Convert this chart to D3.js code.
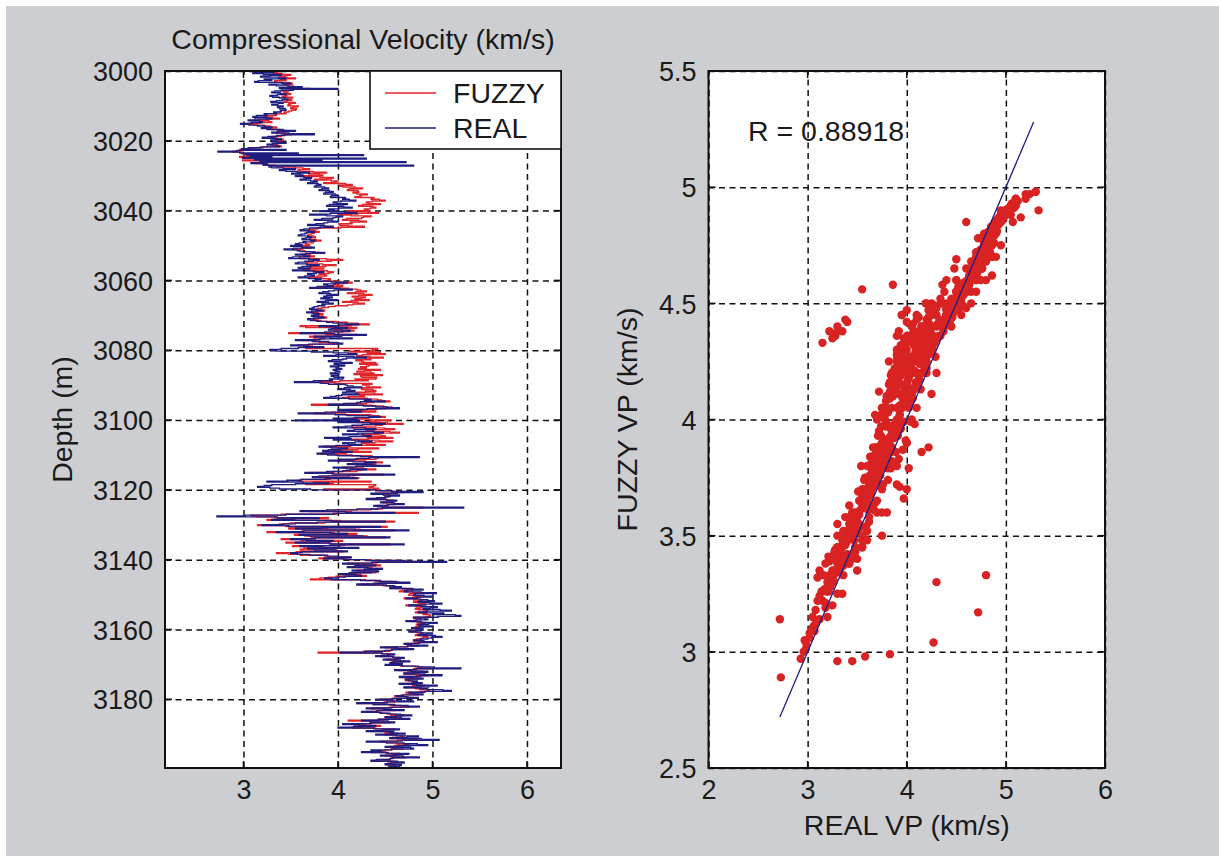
<!DOCTYPE html>
<html>
<head>
<meta charset="utf-8">
<script src="https://cdn.jsdelivr.net/npm/d3@7"></script>
<style>
  html, body { margin: 0; padding: 0; background: #fff; }
  svg text { font-family: "Liberation Sans", Arial, sans-serif; font-size: 28.5px; fill: #1a1a1a; }
  svg .tick text { font-size: 27px; }
</style>
</head>
<body>
<svg id="fig" width="1219" height="856"></svg>
<script>
// Well log: compressional velocity sampled every 0.25 m from 3000 m
const depthTop = 3000;
const sampleStep = 0.25;

// Measured (REAL) P-wave velocity, km/s, one row per 5 m
const vpReal = [
  3.25,3.32,3.10,3.21,3.40,3.28,3.18,3.37,3.45,3.22,3.30,3.16,3.12,3.41,3.50,3.27,3.35,3.47,3.62,3.38,
  4.00,3.52,3.40,3.33,3.30,3.39,3.45,3.36,3.28,3.31,3.38,3.44,3.47,3.41,3.35,3.29,3.42,3.37,3.30,3.36,
  3.42,3.36,3.38,3.44,3.45,3.39,3.40,3.32,3.35,3.22,3.25,3.14,3.10,3.24,3.30,3.12,3.05,3.17,3.20,3.08,
  2.97,3.06,3.15,3.23,3.30,3.19,3.25,3.42,3.55,3.36,3.30,3.48,3.75,3.44,3.35,3.26,3.20,3.33,3.40,3.29,
  3.30,3.36,3.45,3.31,3.25,3.34,3.38,3.18,3.05,2.98,3.45,2.93,2.73,2.96,3.58,3.02,4.27,3.07,3.30,2.99,
  4.30,3.12,3.83,3.18,4.72,3.08,3.25,3.21,4.80,3.27,3.30,3.42,3.55,3.38,3.45,3.57,3.70,3.51,3.60,3.63,
  3.55,3.64,3.72,3.66,3.60,3.71,3.78,3.74,3.68,3.79,3.82,3.77,3.75,3.86,3.90,3.83,3.80,3.91,3.95,3.87,
  3.85,3.97,4.00,3.93,3.92,4.08,4.05,4.12,4.19,4.03,3.95,3.99,4.10,3.91,3.88,4.06,4.15,4.01,3.90,3.96,
  3.80,4.07,4.20,3.92,3.70,3.88,4.05,3.98,3.95,3.83,3.75,3.94,4.00,3.89,3.85,3.77,3.68,3.86,3.95,3.81,
  3.70,3.64,3.60,3.69,3.75,3.67,3.65,3.61,3.58,3.68,3.72,3.66,3.62,3.71,3.76,3.63,3.66,3.59,3.55,3.62,
  3.50,3.62,3.75,3.53,3.43,3.57,3.60,3.73,3.86,3.66,3.55,3.64,3.70,3.52,3.48,3.69,3.80,3.74,3.65,3.58,
  3.55,3.67,3.80,3.71,3.62,3.58,3.70,3.63,3.52,3.74,3.85,3.77,3.68,3.72,3.75,3.65,3.58,3.69,3.82,3.76,
  3.75,3.93,4.10,3.97,3.85,3.89,3.95,3.78,3.70,4.02,4.15,3.96,3.90,3.84,3.80,3.92,4.00,3.88,3.85,3.94,
  3.82,3.91,4.00,3.87,3.78,3.90,3.95,3.83,3.86,3.79,3.75,3.73,3.70,3.77,3.84,3.72,3.67,3.74,3.80,3.76,
  3.72,3.79,3.85,3.74,3.68,3.71,3.78,3.88,3.95,4.08,4.22,4.01,3.80,3.97,4.10,3.93,3.90,4.13,4.05,3.86,
  3.60,3.96,4.30,4.04,3.75,3.92,4.15,3.81,3.55,3.73,3.90,3.99,4.05,3.69,3.50,3.64,3.85,3.58,3.40,3.28,
  3.35,3.72,3.95,4.11,4.20,3.98,3.85,4.17,4.30,4.09,4.05,3.94,3.90,4.03,4.15,3.96,4.00,4.07,3.92,3.99,
  3.98,4.04,3.95,3.99,4.02,3.97,3.92,4.01,4.00,3.93,3.96,4.06,4.05,3.91,3.94,3.74,3.54,3.82,3.90,4.08,
  4.10,4.16,4.25,4.07,4.00,4.13,4.18,4.09,4.05,4.19,4.22,4.04,3.98,3.92,3.85,4.12,4.35,4.28,4.50,4.24,
  4.20,4.06,3.90,4.27,4.40,4.52,4.65,4.31,4.00,4.14,4.25,3.86,3.58,3.97,4.10,4.33,4.45,4.18,3.95,4.21,
  3.55,4.23,4.00,4.34,4.50,4.26,4.15,4.08,3.95,4.29,4.40,4.17,4.10,4.38,4.48,4.21,4.05,4.27,4.35,4.12,
  3.86,4.14,3.95,4.22,4.36,4.18,4.05,4.11,4.25,3.98,3.80,3.93,4.10,4.03,3.90,3.84,4.15,3.96,3.78,3.89,
  4.00,4.24,4.86,4.33,4.20,4.02,3.90,4.16,4.40,4.28,4.10,4.37,4.55,4.19,3.95,4.09,4.30,4.13,4.05,3.88,
  3.65,3.94,4.60,4.12,3.80,3.73,4.20,3.87,3.61,3.46,3.25,3.63,3.90,3.55,3.30,3.22,3.15,3.28,3.38,3.71,
  4.40,4.57,4.90,4.63,4.35,4.48,4.65,4.55,4.50,4.41,4.30,4.52,4.62,4.58,4.45,4.60,4.70,4.53,4.38,4.47,
  5.33,4.42,4.20,3.88,3.60,4.08,4.60,3.95,3.45,3.02,2.72,3.36,3.80,3.52,3.30,3.93,4.50,3.78,3.55,3.42,
  3.20,3.48,4.45,3.83,3.55,4.18,4.75,3.64,3.35,3.92,4.10,3.59,3.70,4.26,4.55,3.76,3.50,3.67,3.95,3.81,
  3.55,3.91,4.70,4.03,3.60,3.84,4.22,3.68,3.75,3.97,4.10,3.62,3.50,3.57,3.70,3.89,4.00,4.14,3.85,4.06,
  4.30,4.71,5.15,4.36,4.05,4.22,4.40,4.18,4.10,4.32,4.47,4.28,4.15,4.43,4.35,4.12,4.02,4.19,4.25,4.08,
  4.00,3.86,3.93,4.24,4.45,4.62,4.76,4.38,4.20,4.51,4.60,4.67,4.55,4.79,4.90,4.73,4.70,4.88,5.04,4.82,
  4.80,4.91,5.00,4.84,4.72,4.87,4.95,5.02,4.85,4.97,5.10,4.93,4.75,4.89,5.05,4.98,4.90,5.08,5.20,4.94,
  4.85,5.12,5.00,5.24,5.30,5.06,4.80,4.92,4.95,4.83,4.72,4.88,5.05,4.96,4.85,4.93,5.00,4.86,4.78,4.90,
  4.90,4.82,4.75,4.88,5.00,4.94,4.85,5.03,5.10,4.99,4.95,4.87,4.80,4.91,5.05,4.86,4.70,4.78,4.95,4.74,
  4.45,4.63,4.80,4.57,4.50,4.29,4.02,4.47,4.60,4.52,4.40,4.58,4.70,4.61,4.48,4.66,4.76,4.59,4.55,4.68,
  4.50,4.68,4.85,5.02,5.30,4.83,4.60,4.77,4.95,4.81,4.70,4.92,5.10,4.87,4.65,4.79,4.90,4.72,4.75,4.84,
  4.80,4.89,4.65,4.83,5.05,4.96,4.70,4.86,4.95,5.11,5.20,4.92,4.75,4.81,4.90,4.69,4.62,4.74,4.85,4.58,
  4.40,4.63,4.80,4.52,4.20,4.37,4.60,4.74,4.86,4.57,4.30,4.49,4.70,4.42,4.25,4.46,4.55,4.66,4.78,4.61,
  4.50,4.67,4.76,4.43,4.25,4.53,4.60,4.34,4.05,4.22,4.40,4.17,4.00,4.38,4.65,4.47,4.30,4.59,4.55,4.71,
  4.40,4.62,4.85,4.73,4.55,4.88,5.07,4.68,4.30,4.51,4.70,4.84,4.95,4.64,4.50,4.77,4.80,4.57,4.35,4.46,
  4.25,4.53,4.75,4.61,4.45,4.69,4.86,4.58,4.55,4.41,4.35,4.63,4.70,4.56,4.50,4.67,4.65,4.54,4.60,4.62
];

// Fuzzy-logic predicted P-wave velocity, km/s, same depths
const vpFuzzy = [
  3.40,3.36,3.32,3.41,3.50,3.44,3.38,3.47,3.55,3.39,3.45,3.33,3.35,3.49,3.52,3.43,3.48,3.53,3.58,3.46,
  3.70,3.53,3.48,3.42,3.45,3.47,3.50,3.46,3.44,3.41,3.52,3.49,3.48,3.51,3.46,3.43,3.55,3.48,3.50,3.47,
  3.58,3.52,3.50,3.56,3.55,3.51,3.48,3.43,3.45,3.33,3.35,3.26,3.22,3.31,3.38,3.24,3.15,3.27,3.30,3.18,
  3.05,3.11,3.22,3.28,3.35,3.26,3.30,3.38,3.45,3.37,3.35,3.43,3.50,3.41,3.40,3.31,3.28,3.36,3.42,3.34,
  3.35,3.39,3.42,3.36,3.30,3.37,3.40,3.21,3.10,3.01,2.96,2.97,2.89,3.00,2.98,3.06,3.04,3.09,2.96,3.03,
  3.30,3.14,2.99,3.19,3.17,3.12,3.20,3.26,3.33,3.35,3.55,3.63,3.70,3.58,3.60,3.74,3.88,3.69,3.80,3.84,
  3.62,3.81,3.95,3.88,3.75,3.93,4.00,3.97,3.85,4.08,4.15,4.02,4.05,4.18,4.26,4.12,4.10,4.21,4.22,4.16,
  4.20,4.31,4.25,4.23,4.18,4.38,4.35,4.44,4.50,4.36,4.30,4.33,4.45,4.26,4.22,4.37,4.40,4.34,4.28,4.32,
  4.10,4.32,4.43,4.21,4.00,4.14,4.35,4.27,4.25,4.09,4.05,4.22,4.30,4.13,4.15,4.01,4.02,4.11,4.28,4.03,
  3.78,3.73,3.70,3.76,3.80,3.75,3.72,3.69,3.68,3.74,3.76,3.71,3.70,3.77,3.82,3.72,3.74,3.67,3.66,3.70,
  3.58,3.67,3.72,3.61,3.52,3.63,3.65,3.76,3.80,3.71,3.62,3.69,3.75,3.59,3.60,3.88,4.05,3.93,3.78,3.66,
  3.68,3.84,3.98,3.87,3.72,3.70,3.85,3.76,3.65,3.89,3.95,3.91,3.80,3.86,3.88,3.78,3.70,3.83,3.92,3.90,
  3.85,4.02,4.15,4.06,3.95,3.99,4.05,3.88,3.80,4.11,4.20,4.24,4.30,4.19,4.10,4.27,4.36,4.22,4.15,4.29,
  4.25,4.18,4.33,4.14,4.05,4.21,4.28,4.16,4.10,3.97,3.90,3.83,3.78,3.81,3.86,3.77,3.72,3.79,3.84,3.80,
  3.78,3.84,3.88,3.79,3.74,3.76,3.82,3.98,4.10,4.21,4.33,4.14,3.60,3.66,4.20,4.04,3.95,4.17,4.12,3.92,
  3.48,3.87,4.20,3.99,3.70,3.83,3.86,3.74,3.62,3.76,3.80,3.91,4.00,3.73,3.58,3.68,3.82,3.66,4.42,4.36,
  4.38,4.12,4.45,4.31,4.50,4.26,4.20,4.34,4.48,4.29,4.35,4.19,4.25,4.27,4.40,4.23,4.42,4.33,4.30,4.24,
  4.30,4.22,4.45,4.28,4.20,4.35,4.38,4.17,4.47,4.24,4.25,4.41,4.40,4.18,4.32,4.02,3.80,3.97,4.36,4.26,
  4.30,4.33,4.45,4.26,4.25,4.37,4.40,4.29,4.20,4.39,4.47,4.23,4.28,4.11,4.05,4.31,4.42,4.46,4.55,4.38,
  4.30,4.12,3.72,4.36,4.48,4.57,4.50,4.41,4.10,4.27,4.40,3.94,3.75,4.08,4.35,4.43,4.50,4.32,4.15,4.34,
  4.56,4.41,4.20,4.52,4.69,4.47,4.40,4.28,4.15,4.49,4.60,4.37,4.30,4.55,4.65,4.43,4.25,4.46,4.50,4.31,
  4.58,4.32,4.15,4.44,4.58,4.39,4.25,4.30,4.50,4.13,3.85,4.06,4.43,4.21,4.05,3.93,4.35,4.09,3.82,3.98,
  4.15,4.36,4.62,4.42,4.40,4.18,4.00,4.29,4.47,4.34,4.25,4.40,4.45,4.27,4.05,4.16,4.40,4.24,4.20,3.95,
  3.70,3.96,4.48,4.17,3.90,3.81,4.22,3.92,3.61,3.58,4.35,3.74,3.95,3.66,4.40,4.38,4.33,4.37,4.43,3.85,
  4.45,4.56,4.70,4.59,4.40,4.49,4.55,4.53,4.50,4.44,4.35,4.51,4.58,4.54,4.48,4.57,4.60,4.52,4.42,4.47,
  4.90,4.47,4.35,3.97,3.70,4.14,4.85,3.99,3.40,3.08,3.14,3.33,3.90,3.55,3.25,4.02,4.60,3.86,3.50,3.38,
  3.15,3.45,4.52,3.89,3.48,4.23,4.60,3.62,3.25,3.96,4.20,3.54,3.65,4.31,4.50,3.72,3.40,3.61,4.05,3.79,
  3.45,3.93,4.55,4.07,3.52,3.79,3.88,3.64,3.60,3.99,4.05,3.56,3.35,3.48,3.60,3.86,3.90,4.13,3.80,4.09,
  4.35,4.66,4.87,4.41,4.10,4.28,4.45,4.22,4.15,4.36,4.47,4.33,4.20,4.42,4.40,4.17,4.05,4.24,4.30,3.98,
  3.90,3.81,3.71,4.29,4.40,4.57,4.65,4.43,4.25,4.48,4.58,4.62,4.55,4.71,4.80,4.68,4.65,4.79,4.90,4.76,
  4.75,4.81,4.90,4.79,4.70,4.80,4.85,4.89,4.80,4.86,4.92,4.84,4.72,4.83,4.88,4.87,4.82,4.91,4.95,4.85,
  4.82,4.94,4.90,4.97,4.98,4.93,4.80,4.86,4.88,4.81,4.78,4.84,4.92,4.88,4.83,4.87,4.90,4.82,4.80,4.85,
  4.85,4.80,4.78,4.84,4.90,4.87,4.82,4.91,4.95,4.90,4.88,4.83,4.80,4.86,4.92,4.81,4.72,4.76,4.85,4.73,
  4.50,4.62,4.75,4.58,4.55,4.27,3.79,4.46,4.55,4.54,4.45,4.59,4.65,4.60,4.52,4.64,4.70,4.57,4.58,4.63,
  4.60,4.66,4.82,4.89,4.98,4.80,4.65,4.74,4.90,4.78,4.70,4.86,4.95,4.83,4.68,4.75,4.85,4.71,4.72,4.79,
  4.78,4.84,4.65,4.79,4.92,4.88,4.70,4.82,4.88,4.94,4.97,4.86,4.72,4.77,4.85,4.67,4.60,4.71,4.80,4.57,
  4.45,4.58,4.60,4.49,4.20,4.38,4.55,4.66,4.75,4.54,4.35,4.47,4.60,4.41,4.30,4.44,4.52,4.61,4.70,4.56,
  4.50,4.61,4.65,4.42,4.11,4.48,4.55,4.36,4.20,4.29,4.45,4.26,4.15,4.40,4.60,4.46,4.35,4.55,4.50,4.63,
  4.50,4.58,4.70,4.66,4.55,4.76,4.85,4.63,4.45,4.52,4.62,4.72,4.75,4.60,4.55,4.69,4.68,4.56,4.50,4.48,
  4.35,4.51,4.65,4.57,4.50,4.64,4.70,4.56,4.55,4.46,4.40,4.59,4.62,4.53,4.52,4.61,4.60,4.54,4.58,4.60
];

// Tick values
const depthTicks = [3000, 3020, 3040, 3060, 3080, 3100, 3120, 3140, 3160, 3180];
const logVelTicks = [3, 4, 5, 6];
const realTicks = [2, 3, 4, 5, 6];
const fuzzyTicks = [2.5, 3, 3.5, 4, 4.5, 5, 5.5];

// Legend entries and correlation
const seriesNames = ["FUZZY", "REAL"];
const correlationR = 0.88918;
// 1:1 reference line end points (km/s)
const fitReal = [2.72, 5.28];
const fitFuzzy = [2.72, 5.28];

const colors = { FUZZY: "#e0242a", REAL: "#1e1e80" };
const scatterColor = "#d92323";

const samples = vpReal.map((v, i) => ({
  depth: depthTop + i * sampleStep,
  real: v,
  fuzzy: vpFuzzy[i]
}));

const W = 1219, H = 856;
const svg = d3.select("#fig");

// figure background
svg.append("rect").attr("x", 6).attr("y", 6).attr("width", W - 6).attr("height", H - 6)
  .attr("fill", "#cdced2");

const defs = svg.append("defs");

function gridAndFrame(g, x, y, xTicks, yTicks, fmtX, fmtY) {
  const [x0, x1] = x.range();
  const [yb, yt] = y.range();
  // plot area
  g.append("rect").attr("x", x0).attr("y", yt).attr("width", x1 - x0).attr("height", yb - yt)
    .attr("fill", "#fff");

  // dashed grid
  const grid = g.append("g").attr("class", "grid");
  grid.append("g").attr("transform", `translate(0,${yb})`)
    .call(d3.axisBottom(x).tickValues(xTicks).tickSize(-(yb - yt)).tickFormat(""))
    .call(s => s.select(".domain").remove());
  grid.append("g").attr("transform", `translate(${x0},0)`)
    .call(d3.axisLeft(y).tickValues(yTicks).tickSize(-(x1 - x0)).tickFormat(""))
    .call(s => s.select(".domain").remove());
  grid.selectAll("line").attr("stroke", "#111").attr("stroke-width", 1.5)
    .attr("stroke-dasharray", "6,4.5");

  // tick labels
  const lx = g.append("g").attr("transform", `translate(0,${yb})`)
    .call(d3.axisBottom(x).tickValues(xTicks).tickSize(0).tickPadding(12).tickFormat(fmtX));
  lx.select(".domain").remove();
  const ly = g.append("g").attr("transform", `translate(${x0},0)`)
    .call(d3.axisLeft(y).tickValues(yTicks).tickSize(0).tickPadding(12).tickFormat(fmtY));
  ly.select(".domain").remove();
  ly.selectAll("text").attr("dy", "0.36em");
  [lx, ly].forEach(a => a.attr("font-size", null).attr("font-family", null));
  g.selectAll(".tick text").attr("fill", "#1a1a1a");
}

function innerTicks(g, x, y, xTicks, yTicks) {
  const [x0, x1] = x.range();
  const [yb, yt] = y.range();
  const len = 7;
  const t = g.append("g").attr("stroke", "#111").attr("stroke-width", 1.5);
  xTicks.forEach(v => {
    t.append("line").attr("x1", x(v)).attr("x2", x(v)).attr("y1", yb).attr("y2", yb - len);
    t.append("line").attr("x1", x(v)).attr("x2", x(v)).attr("y1", yt).attr("y2", yt + len);
  });
  yTicks.forEach(v => {
    t.append("line").attr("y1", y(v)).attr("y2", y(v)).attr("x1", x0).attr("x2", x0 + len);
    t.append("line").attr("y1", y(v)).attr("y2", y(v)).attr("x1", x1).attr("x2", x1 - len);
  });
  g.append("rect").attr("x", x0).attr("y", yt).attr("width", x1 - x0).attr("height", yb - yt)
    .attr("fill", "none").attr("stroke", "#111").attr("stroke-width", 2);
}

// ---------- Left: velocity log vs depth ----------
const xL = d3.scaleLinear().domain([2.17, 6.36]).range([165, 561]);
const yL = d3.scaleLinear().domain([3199.7, 3000]).range([768, 71]);
const gL = svg.append("g");
gridAndFrame(gL, xL, yL, logVelTicks, depthTicks, d3.format("d"), d3.format("d"));

defs.append("clipPath").attr("id", "clipL").append("rect")
  .attr("x", 165).attr("y", 71).attr("width", 561 - 165).attr("height", 768 - 71);

const logFuzzy = d3.line().curve(d3.curveStepBefore).x(d => xL(d.fuzzy)).y(d => yL(d.depth));
const logReal = d3.line().curve(d3.curveStepBefore).x(d => xL(d.real)).y(d => yL(d.depth));
const traces = gL.append("g").attr("clip-path", "url(#clipL)");
traces.append("path").datum(samples).attr("d", logFuzzy)
  .attr("fill", "none").attr("stroke", colors.FUZZY).attr("stroke-width", 1.4);
traces.append("path").datum(samples).attr("d", logReal)
  .attr("fill", "none").attr("stroke", colors.REAL).attr("stroke-width", 1.4);

innerTicks(gL, xL, yL, logVelTicks, depthTicks);

// legend
const leg = gL.append("g");
leg.append("rect").attr("x", 370).attr("y", 71).attr("width", 191).attr("height", 78)
  .attr("fill", "#fff").attr("stroke", "#111").attr("stroke-width", 1.6);
seriesNames.forEach((name, i) => {
  const ly = 93 + i * 35;
  leg.append("line").attr("x1", 385).attr("x2", 436).attr("y1", ly).attr("y2", ly)
    .attr("stroke", colors[name]).attr("stroke-width", 1.6);
  leg.append("text").attr("x", 453).attr("y", ly + 10).attr("font-size", 27).text(name);
});

// title and y label
svg.append("text").attr("x", (165 + 561) / 2).attr("y", 49).attr("text-anchor", "middle")
  .text("Compressional Velocity (km/s)");
svg.append("text").attr("transform", `translate(72,${(71 + 768) / 2}) rotate(-90)`)
  .attr("text-anchor", "middle").text("Depth (m)");

// ---------- Right: crossplot ----------
const xR = d3.scaleLinear().domain([2, 6]).range([708.5, 1105]);
const yR = d3.scaleLinear().domain([2.5, 5.5]).range([768, 71]);
const gR = svg.append("g");
gridAndFrame(gR, xR, yR, realTicks, fuzzyTicks, d3.format("d"), d3.format("~g"));

defs.append("clipPath").attr("id", "clipR").append("rect")
  .attr("x", 708.5).attr("y", 71).attr("width", 1105 - 708.5).attr("height", 768 - 71);

const pts = gR.append("g").attr("clip-path", "url(#clipR)");
pts.selectAll("circle").data(samples).join("circle")
  .attr("cx", d => xR(d.real)).attr("cy", d => yR(d.fuzzy)).attr("r", 4.2)
  .attr("fill", scatterColor);

const fit = fitReal.map((r, i) => [r, fitFuzzy[i]]);
pts.append("path").datum(fit)
  .attr("d", d3.line().x(d => xR(d[0])).y(d => yR(d[1])))
  .attr("stroke", colors.REAL).attr("stroke-width", 1.3).attr("fill", "none");

innerTicks(gR, xR, yR, realTicks, fuzzyTicks);

svg.append("text").attr("x", 748).attr("y", 140.5).attr("font-size", 28).text(`R = ${correlationR}`);
svg.append("text").attr("x", (708.5 + 1105) / 2).attr("y", 835).attr("text-anchor", "middle")
  .text("REAL VP (km/s)");
svg.append("text").attr("transform", `translate(637,${(71 + 768) / 2}) rotate(-90)`)
  .attr("text-anchor", "middle").text("FUZZY VP (km/s)");
</script>
</body>
</html>
